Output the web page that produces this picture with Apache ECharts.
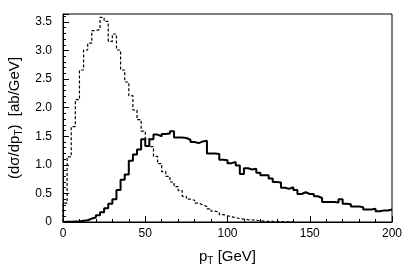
<!DOCTYPE html>
<html>
<head>
<meta charset="utf-8">
<script src="https://cdn.jsdelivr.net/npm/echarts@6/dist/echarts.min.js"></script>
<style>
  html, body { margin: 0; padding: 0; background: #fff; }
  #chart { width: 403px; height: 267px; }
</style>
</head>
<body>
<div id="chart"></div>
<script>
// bin width in GeV, histograms start at 0
const binWidth = 2.5
const xTicks = [0, 50, 100, 150, 200]
const yTicks = [0, 0.5, 1.0, 1.5, 2.0, 2.5, 3.0, 3.5]

// dashed histogram (peaks near 25 GeV)
const dashedValues = [
  0.33, 1.14, 1.67, 2.14, 2.66, 3.01, 3.13, 3.35, 3.37, 3.58,
  3.51, 3.16, 3.29, 3.01, 2.66, 2.45, 2.21, 1.96, 1.79, 1.59,
  1.46, 1.32, 1.15, 1.02, 0.88, 0.80, 0.70, 0.62, 0.55, 0.45,
  0.40, 0.38, 0.33, 0.30, 0.27, 0.23, 0.19, 0.17, 0.13, 0.11,
  0.09, 0.08, 0.06, 0.05, 0.04, 0.035, 0.03, 0.02, 0.015, 0.01,
  0.01, 0.008, 0.005, 0.004, 0.003, 0.002,
]

// solid histogram (broad, peaks near 65 GeV)
const solidValues = [
  0.005, 0.005, 0.01, 0.01, 0.02, 0.03, 0.06, 0.08, 0.12, 0.17,
  0.24, 0.32, 0.40, 0.56, 0.74, 0.83, 1.07, 1.18, 1.27, 1.45,
  1.33, 1.45, 1.53, 1.50, 1.54, 1.55, 1.59, 1.48, 1.48, 1.47,
  1.44, 1.40, 1.38, 1.41, 1.42, 1.20, 1.20, 1.19, 1.09, 1.08,
  1.03, 1.05, 0.99, 0.84, 0.94, 0.92, 0.93, 0.86, 0.82, 0.82,
  0.76, 0.70, 0.69, 0.60, 0.58, 0.61, 0.56, 0.49, 0.52, 0.49,
  0.49, 0.45, 0.42, 0.35, 0.35, 0.35, 0.34, 0.40, 0.32, 0.31,
  0.27, 0.27, 0.26, 0.22, 0.22, 0.23, 0.19, 0.20, 0.20, 0.22,
]

// turn bin contents into step points: [lowEdge, value] ... [lastEdge, lastValue]
function toSteps(values) {
  const pts = [[0, 0]]
  values.forEach((v, i) => pts.push([i * binWidth, v]))
  pts.push([values.length * binWidth, values[values.length - 1]])
  return pts
}

const font = 'Liberation Sans, Arial, Helvetica, sans-serif'
const yMax = 3.64

const chart = echarts.init(document.getElementById('chart'), null, { renderer: 'canvas' })

const options = {
  animation: false,
  grid: {
    left: 63,
    right: 11,
    top: 14,
    bottom: 45,
    outerBoundsMode: 'none',
    show: true,
    borderColor: '#000',
    borderWidth: 1,
  },
  xAxis: {
    type: 'value',
    min: xTicks[0],
    max: xTicks[xTicks.length - 1],
    interval: 50,
    name: '{m|p}{s|T}{m| [GeV]}',
    nameLocation: 'middle',
    nameGap: 25,
    nameTextStyle: {
      rich: {
        m: { fontFamily: font, fontSize: 15, color: '#000', lineHeight: 19 },
        s: { fontFamily: font, fontSize: 10, color: '#000', verticalAlign: 'bottom', height: 10 },
      },
    },
    axisLine: { lineStyle: { color: '#000', width: 1 } },
    axisTick: { inside: true, length: 6, lineStyle: { color: '#000' } },
    minorTick: { show: true, splitNumber: 5, length: 3, lineStyle: { color: '#000' } },
    splitLine: { show: false },
    axisLabel: { color: '#000', fontFamily: font, fontSize: 12, margin: 6 },
  },
  yAxis: [
    {
      type: 'value',
      position: 'left',
      min: 0,
      max: yMax,
      interval: 0.5,
      name: '{m|(d\u03c3/dp}{s|T}{m|)  [ab/GeV]}',
      nameLocation: 'middle',
      nameRotate: 90,
      nameGap: 32,
      nameTextStyle: {
        rich: {
          m: { fontFamily: font, fontSize: 15, color: '#000', lineHeight: 19 },
          s: { fontFamily: font, fontSize: 10, color: '#000', verticalAlign: 'bottom', height: 10 },
        },
      },
      axisLine: { show: true, lineStyle: { color: '#000', width: 1 } },
      axisTick: { inside: true, length: 6, lineStyle: { color: '#000' } },
      splitLine: { show: false },
      axisLabel: {
        color: '#000',
        fontFamily: font,
        fontSize: 12,
        margin: 11,
        formatter: (v) => {
          const t = yTicks.find((y) => Math.abs(y - v) < 1e-6)
          if (t === undefined) return ''
          return t === 0 ? '0' : t.toFixed(1)
        },
      },
    },
    {
      // minor ticks every 0.1
      type: 'value',
      position: 'left',
      min: 0,
      max: yMax,
      interval: 0.1,
      axisLine: { show: false },
      axisTick: { show: true, inside: true, length: 3, lineStyle: { color: '#000' } },
      axisLabel: { show: false },
      splitLine: { show: false },
    },
  ],
  series: [
    {
      name: 'dashed',
      type: 'line',
      step: 'end',
      symbol: 'none',
      data: toSteps(dashedValues),
      lineStyle: { color: '#000', width: 1.2, type: [3, 2] },
    },
    {
      name: 'solid',
      type: 'line',
      step: 'end',
      symbol: 'none',
      data: toSteps(solidValues),
      lineStyle: { color: '#000', width: 2 },
    },
  ],
}

chart.setOption(options)
</script>
</body>
</html>
